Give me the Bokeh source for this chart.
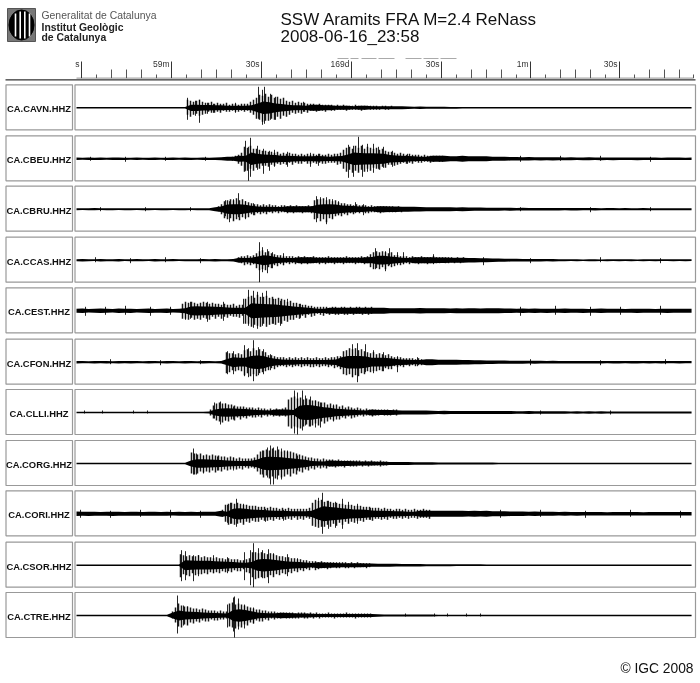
from bokeh.plotting import figure
from bokeh.models import Range1d
from bokeh.embed import file_html
from bokeh.resources import INLINE
from bokeh.core.properties import value

TITLE_1 = "SSW Aramits FRA M=2.4 ReNass"
TITLE_2 = "2008-06-16_23:58"
stations = ["CA.CAVN.HHZ","CA.CBEU.HHZ","CA.CBRU.HHZ","CA.CCAS.HHZ","CA.CEST.HHZ","CA.CFON.HHZ",
            "CA.CLLI.HHZ","CA.CORG.HHZ","CA.CORI.HHZ","CA.CSOR.HHZ","CA.CTRE.HHZ"]
panel_centres = [107.3,158.3,208.7,259.7,310.3,361.7,412,463,513.3,564.7,615]

major_ticks = [81,171,261,351,441,530,619]
major_labels = ["s","59m","30s","169d","30s","1m","30s"]
mid_ticks = [111,126,141,201,216,231,291,306,321,381,396,411,471,486,501,560,575,590,649,664,679]
short_ticks = [96,156,186,246,276,336,366,426,456,516,545,605,634,693]
dash_starts = [337,350,361,378,405,423,440]
dash_ends = [348,358,376,394,421,438,456]

SAMPLE_START = 76
SAMPLE_STEP = 6.03
TOOTH_STEP = 3

core_cavn = [.8,.8,.8,.8,.8,.8,.8,.8,.8,.8,
 .8,.8,.8,.8,.8,.8,.8,.8,.8,5,
 5,4.5,4.5,4,4,3.5,3.5,3.5,3.5,4,
 7,10,9,7,6,5,4,4,3.5,3,
 3,2.5,2.5,2,2,2,1.5,2,2,1.5,
 1.5,1.5,1.5,1.5,1.5,1.2,1,1.2,1,1,
 1,1,.9,.9,.8,.8,.8,.8,.8,.8,
 .8,.8,.8,.8,.8,.8,.8,.8,.8,.8,
 .8,.8,.8,.8,.8,.8,.8,.8,.8,.8,
 .8,.8,.8,.8,.8,.8,.8,.8,.8,.8,
 .8,.8,.8]
core_cbeu = [1.2,1,1.3,1.1,1.2,1,1.2,1.3,1.1,1,
 1.2,1,1.1,1.2,1,1.1,1.2,1,1.2,1.1,
 1,1.2,1.1,1.2,1.5,2,2,3,4.5,10,
 8,7,6.5,6,5,5,4.5,4,4,4,
 4.5,4,3.5,4,4.5,7,10,9.5,9,9,
 8.5,8,6,5.5,5,4.5,4,3.5,3.5,3,
 3,3,2.5,2.5,3,2.5,2.5,2.5,2.5,2,
 2,2,1.8,1.8,1.6,1.8,1.5,1.6,1.5,1.6,
 1.5,1.4,1.5,1.3,1.4,1.5,1.2,1.4,1.3,1.4,
 1.2,1.3,1.2,1.4,1.2,1.2,1.3,1.1,1.2,1.2,
 1.2,1.1,1.2]
core_cbru = [1,.9,1,1.1,.9,1,1,.9,1,1,
 .9,1,1,.9,1,1,.9,1,1,.9,
 1,1,1,2,4.5,7.5,8,8,7,5.5,
 4.5,4,4,3.5,3.5,3,3,3,3,3,
 7,8,8,7.5,6,5.5,5,4.5,4,3.5,
 3,3,2.8,2.8,2.5,2.5,2.4,2.3,2,2,
 2,2,2,1.8,2,1.8,1.6,1.6,1.5,1.5,
 1.5,1.4,1.5,1.3,1.4,1.3,1.2,1.3,1.2,1.3,
 1.2,1.1,1.2,1.2,1.1,1.1,1.2,1,1.1,1.1,
 1,1.1,1,1,1.1,1,1,1,1,1,
 1,1,1]
core_ccas = [1,1.2,1,.9,1.2,1,1,1.2,.9,1,
 1.1,1,.9,1.2,1,1,1.1,.9,1,1,
 1,1.1,1,1.2,1,1,1.2,2.5,3.5,4,
 6,8,7,5,4,3.5,3.5,3,3,3,
 2.5,2.5,2.5,2.5,2.5,2.5,2.5,2.5,3,5,
 7,7,6,5,4,3.5,3,3,3,3,
 2.8,2.8,2.5,2.5,2.5,2.2,2.2,2,2,1.8,
 1.6,1.5,1.4,1.4,1.2,1.3,1.2,1.2,1.1,1.2,
 1,1,.9,1,.8,1,1,.8,1,.9,
 1,.9,1,.8,1,.9,1,.9,.9,1,
 .9,1,.9]
core_cest = [2,2.2,1.8,2,2.3,2,1.8,2.2,2,2.1,
 1.8,2,2.2,1.9,2,2.2,1.8,2,2.5,7,
 7.5,7,7,6.5,6,5.5,5,5,5,12,
 11.5,11,10.5,10,9,8,7,6,5.5,4.5,
 3.5,3.5,3,3,3,3,3,3,3,3,
 3,3,2.5,2.5,2.5,2.5,2.5,2.8,2.5,2.5,
 2.5,2.5,2.3,2.5,2.4,2.5,2.5,2.4,2.5,2.5,
 2.5,2.2,2.3,2,2.2,2,2.3,2,2.1,2,
 2,2.2,2,2,2.1,1.9,2,2.2,2,2,
 2,1.9,2,2.1,2,2,1.9,2,2.1,2,
 2,2,2]
core_cfon = [1.2,1.1,1,1.3,1.1,1.2,1,1.2,1.1,1.2,
 1.1,1,1.2,1.1,1,1.2,1.1,1,1.2,1.1,
 1,1.2,1.1,1,1.2,5,8,7,7,10,
 11,10,7,5.5,4.5,4,4,3.5,3.5,3.5,
 3.5,3.5,4,4.5,8,10,10,10,9,7,
 7,7,6.5,5,4.5,4,3.5,3.5,3,3,
 2.5,2.5,2.5,2.5,2.3,2.2,2,2,1.8,1.8,
 1.6,1.6,1.5,1.5,1.5,1.4,1.5,1.4,1.3,1.4,
 1.3,1.3,1.2,1.3,1.2,1.2,1.3,1.2,1.1,1.2,
 1.2,1.1,1.2,1.2,1.1,1.2,1.1,1.2,1.1,1.1,
 1.2,1.1,1.1]
core_clli = [.8,.7,.7,.8,.7,.7,.7,.8,.7,.7,
 .7,.7,.8,.7,.7,.7,.8,.7,.7,.7,
 .7,.8,1,5,6.5,7,6.5,6,5.5,5,
 4,3.5,3.2,3,3,3,4,11,12,11.5,
 10,8.5,7.5,6,5.5,5,4.5,3.5,3.2,3,
 2.5,2.5,2.5,2.2,2,2,2,2,2,1.8,
 1.6,1.8,1.5,1.5,1.6,1.5,1.5,1.4,1.5,1.5,
 1.5,1.4,1.4,1.3,1.3,1.4,1.2,1.3,1.2,1.2,
 1.2,1.2,1.1,1.2,1.1,1.2,1.1,1.2,1,1.1,
 1.1,1,1.1,1,1,1.1,1,1,1.1,1,
 1,1,1]
core_corg = [.8,.8,.8,.8,.8,.8,.8,.8,.8,.8,
 .8,.8,.8,.8,.8,.8,.8,.8,.8,3,
 7,7,6.5,6,5.5,5,4.5,4,4,4.5,
 6.5,10,11,10.5,10,9,8,7,6,4,
 3.5,3.3,3,2.8,2.5,2.5,2.3,2,2,2,
 1.8,1.8,1.6,1.5,1.5,1.4,1.3,1.2,1.2,1.2,
 1.1,1.1,1,1,1,1,.9,.9,.9,.9,
 .8,.8,.8,.8,.8,.8,.8,.8,.8,.8,
 .8,.8,.8,.8,.8,.8,.8,.8,.8,.8,
 .8,.8,.8,.8,.8,.8,.8,.8,.8,.8,
 .8,.8,.8]
core_cori = [2.2,2,2.1,2,1.9,2,2.1,2,1.9,2,
 2,1.9,2,2,1.9,2,1.8,2,1.9,2,
 1.9,2,2,2,3,3.5,8,9,8,7,
 6.5,6,5.5,5,5,4.5,4,4,4,5,
 9,12,11,10,9,8,7,7,6.5,5.5,
 5,5,4.5,4,4,3.5,3.3,3,3,3,
 3,3,3,3,3,2.8,3,2.8,3,2.5,
 2.5,2.5,2.3,2.2,2.3,2,2.2,2,2,2,
 1.8,2,1.8,1.9,1.8,1.7,1.8,1.8,1.6,1.8,
 1.7,1.8,1.7,1.8,1.6,1.8,1.7,1.8,1.7,1.7,
 1.7,1.8,1.7]
core_csor = [.8,.8,.8,.8,.8,.8,.8,.8,.8,.8,
 .8,.8,.8,.8,.8,.8,.8,.8,8,7.5,
 7,7,7,6.5,6,5.5,5,4.5,4,5,
 9,10,9.5,8.5,7,6,5.5,5,4.5,3.5,
 3,2.8,2.5,2.2,2,2,2,2,1.8,1.6,
 1.5,1.5,1.5,1.4,1.3,1.2,1.2,1.2,1,1,
 1,1,1,.9,.9,.9,.9,.9,.8,.8,
 .8,.8,.8,.8,.8,.8,.8,.8,.8,.8,
 .8,.8,.8,.8,.8,.8,.8,.8,.8,.8,
 .8,.8,.8,.8,.8,.8,.8,.8,.8,.8,
 .8,.8,.8]
core_ctre = [.8,.8,.8,.8,.8,.8,.8,.8,.8,.8,
 .8,.8,.8,.8,.8,.8,3,8,6.5,6,
 5.5,5,4.5,4,3.5,3.2,9,10,9,7,
 5,4,3.5,3.5,2.8,2.5,2.2,2,2,1.8,
 1.6,1.5,1.5,1.5,1.6,1.5,1.5,1.4,1.5,1.4,
 1.2,1.1,1,1,1,.9,.9,.9,.9,.9,
 .8,.8,.8,.8,.8,.8,.8,.8,.8,.8,
 .8,.8,.8,.8,.8,.8,.8,.8,.8,.8,
 .8,.8,.8,.8,.8,.8,.8,.8,.8,.8,
 .8,.8,.8,.8,.8,.8,.8,.8,.8,.8,
 .8,.8,.8]

spike_x_cavn = [187,195,199,207,213,235,258,262,264,270,275,283,303,318]
spike_up_cavn = [10,7,8,5,4,5,21,18,21,14,11,6,6,3]
spike_dn_cavn = [12,8,15,6,5,5,11,17,16,12,12,7,4,3]
spike_x_cbeu = [90,125,165,205,245,248,250,257,263,269,274,287,310,318,348,353,358,362,367,373,378,383,392,407,520,560,600,650]
spike_up_cbeu = [2,2,2,2,18,12,21,13,10,8,9,7,6,5,14,13,22,14,15,15,12,12,8,5,3,3,3,2]
spike_dn_cbeu = [2,3,2,2,12,22,18,11,15,12,8,8,8,7,19,18,12,18,13,14,10,9,8,5,3,2,2,3]
spike_x_cbru = [100,145,190,225,229,233,238,245,253,316,320,326,332,338,355,363,520,590,650]
spike_up_cbru = [2,2,2,9,8,10,16,8,6,13,12,12,10,8,7,5,2,2,2]
spike_dn_cbru = [2,2,2,7,13,11,8,10,6,13,9,15,9,6,4,6,2,3,2]
spike_x_ccas = [95,130,165,200,259,262,267,272,283,375,385,389,397,403,433,483,530,600,660]
spike_up_ccas = [3,2,3,2,18,13,11,8,7,12,9,12,8,8,6,3,2,3,2]
spike_dn_ccas = [2,3,2,3,22,12,13,8,5,9,11,5,5,4,4,5,3,2,3]
spike_x_cest = [85,105,125,150,170,185,190,207,223,243,248,253,257,262,266,273,280,287,300,520,555,590,620,660]
spike_up_cest = [4,4,5,4,4,7,9,9,9,12,21,20,19,18,20,12,10,12,7,4,5,4,4,5]
spike_dn_cest = [5,4,4,5,4,9,8,11,10,13,15,17,18,15,13,13,15,8,7,5,4,5,4,4]
spike_x_cfon = [110,160,200,227,233,244,248,253,258,263,270,352,357,365,373,383,397,417,530,600,665]
spike_up_cfon = [3,2,2,11,11,17,14,22,15,13,8,18,19,18,12,10,6,5,3,2,3]
spike_dn_cfon = [2,3,2,12,12,14,15,19,13,12,8,15,20,10,11,9,10,4,3,3,2]
spike_x_clli = [84,102,133,147,214,220,225,233,294,297,302,305,310,315,320,333,540,610]
spike_up_clli = [2,2,2,2,10,11,9,6,22,20,22,17,16,12,10,8,2,2]
spike_dn_clli = [1,1,1,1,6,12,8,7,21,22,18,13,14,15,15,9,2,2]
spike_x_corg = [193,196,203,217,233,262,267,270,273,277,281,287,297]
spike_up_corg = [15,10,8,7,6,13,16,18,16,17,15,13,8]
spike_dn_corg = [11,11,10,7,7,11,14,21,21,16,16,9,7]
spike_x_cori = [80,110,140,170,200,227,230,236,243,265,283,318,322,328,335,342,348,357,370,500,540,585,630,680]
spike_up_cori = [4,3,4,4,3,9,11,15,10,5,4,16,21,13,12,15,12,10,6,4,4,3,4,3]
spike_dn_cori = [4,4,3,4,4,9,10,13,9,8,7,10,20,15,14,15,9,10,6,4,3,4,3,4]
spike_x_csor = [181,185,193,198,213,227,244,250,253,258,262,268,273,287,297]
spike_up_csor = [15,14,10,10,10,8,13,15,22,17,15,16,12,11,7]
spike_dn_csor = [16,15,16,11,8,8,15,20,22,12,13,18,10,11,5]
spike_x_ctre = [177,183,187,227,233,234,238,244,253,405,434,447,466,480]
spike_up_ctre = [20,10,9,11,18,19,17,11,8,2,2,2,2,2]
spike_dn_ctre = [18,10,9,12,16,22,14,13,8,1,1,1,1,1]

tooth_start = [187,232,218,238,182,226,210,191,222,180,172]

tooth_up_cavn = [8,7,6,7,8,6,5,5,6,4,5,4,4,5,3,4,4,3,4,4,4,6,8,10,13,12,14,11,13,10,11,9,10,7,6,7,5,6,5,5,4,4,4,3,4,3,3,3,3,2,3,2,3,2,2,2,3,2,2,2,2,2,2,2,1,2,2,1,2]
tooth_dn_cavn = [7,9,7,6,8,7,6,4,5,5,4,5,3,4,4,3,4,4,3,4,3,5,7,11,12,14,13,13,11,12,9,11,8,9,7,5,6,5,6,4,5,3,3,4,3,3,4,2,3,3,2,2,2,3,2,2,2,2,3,2,1,2,2,2,2,1,2,2,1]
tooth_up_cbeu = [2,3,4,6,12,11,13,10,10,9,8,8,7,7,6,7,5,6,5,6,5,5,4,5,4,5,4,5,4,5,4,4,5,4,5,5,6,9,11,12,10,13,11,13,10,12,11,10,11,9,10,8,7,7,6,5,6,5,4,5,4,4,4,3,4,3,3,3,3,3,3]
tooth_dn_cbeu = [2,2,5,7,13,12,10,12,9,10,7,7,8,6,7,5,6,5,6,4,6,4,5,5,3,5,5,4,5,4,5,5,4,4,4,6,5,10,13,11,14,12,14,11,13,10,12,9,10,11,8,9,6,6,7,6,5,4,5,4,5,3,4,4,3,3,4,3,2,3,3]
tooth_up_cbru = [3,5,8,9,10,9,11,9,10,8,7,6,5,5,4,5,4,5,4,4,3,4,4,3,4,3,4,3,3,3,4,3,9,10,10,11,9,10,8,9,7,6,6,5,5,4,5,4,4,4,3,4,3,3,3,3,3,3,3,2,3,2]
tooth_dn_cbru = [2,5,9,10,9,12,10,11,8,9,8,5,6,4,5,4,5,3,4,3,4,3,3,4,3,4,3,3,4,3,3,4,10,9,12,10,13,9,10,7,6,7,5,6,4,5,3,4,3,4,4,3,3,3,4,3,2,3,3,3,2,3]
tooth_up_ccas = [3,4,4,5,4,5,7,9,10,8,9,7,6,5,5,4,4,4,4,3,4,3,4,3,3,4,3,3,3,3,4,3,3,3,3,3,4,3,3,3,3,4,3,4,6,8,9,8,9,8,7,8,5,5,4,4,4,3,4,3,3,4,3,3,3,4,3,3,3,3,3,3,2,3,2,3]
tooth_dn_ccas = [2,3,5,4,5,4,8,10,9,10,7,8,5,6,4,5,3,4,3,4,3,4,3,4,3,3,3,4,3,4,3,3,4,3,3,4,3,3,3,4,3,3,4,3,7,9,8,9,7,9,6,7,6,4,5,4,3,4,3,3,4,3,3,4,3,3,3,3,2,3,3,2,3,2,3,2]
tooth_up_cest = [7,9,8,9,8,7,8,9,8,7,8,7,7,6,7,6,6,7,5,6,6,12,14,15,13,16,14,14,15,13,14,12,13,12,11,9,10,8,8,7,6,6,5,5,4,4,4,4,4,3,4,4,3,4,4,3,4,3,4,4,3,4,3,4]
tooth_dn_cest = [8,8,9,7,9,8,9,7,8,9,6,8,6,8,6,7,5,6,6,7,5,13,13,16,14,15,16,13,16,14,13,14,12,13,10,11,9,9,7,8,5,7,4,6,5,3,4,5,3,4,3,4,4,3,4,4,3,4,3,3,4,3,4,3]
tooth_up_cfon = [10,9,9,8,9,8,12,13,11,14,12,13,11,10,7,7,6,5,5,5,4,5,4,5,4,5,4,5,4,4,5,4,4,5,4,5,5,6,6,11,12,14,13,14,12,13,11,10,9,10,8,9,8,7,8,6,5,5,5,4,4,4,4,3,4,3]
tooth_dn_cfon = [11,10,8,9,8,9,13,11,14,12,14,11,10,9,8,6,7,5,4,4,5,4,5,4,4,5,4,4,5,5,4,5,4,4,5,4,6,5,7,12,13,12,15,13,14,11,12,9,10,9,9,8,9,6,7,7,4,5,4,5,3,4,3,4,3,3]
tooth_up_clli = [3,7,9,10,9,9,8,8,7,6,6,6,5,5,5,4,5,4,4,3,4,3,4,3,4,5,13,15,16,14,15,13,14,13,12,12,11,10,10,8,9,7,8,6,7,5,6,5,4,5,4,3,4,3,3,3,3,3,3,3,2,3,3]
tooth_dn_clli = [3,6,8,9,10,8,9,7,8,5,7,5,6,4,5,5,4,5,3,4,3,4,3,4,3,4,14,16,14,15,16,14,12,14,13,11,13,9,11,9,7,8,7,7,5,6,4,6,5,4,3,4,3,3,4,3,3,2,3,3,3,2,3]
tooth_up_corg = [11,10,9,10,8,9,8,9,8,8,7,7,6,7,6,5,6,5,5,5,5,6,9,12,13,14,13,15,13,14,12,13,12,12,11,10,9,8,7,6,6,5,5,4,5,4,4,4,3,4,3,3,3,3,3,3,3,2,3,2,3,2,2,3,2,2]
tooth_dn_corg = [10,11,10,8,9,8,9,7,9,7,8,6,7,6,5,6,5,6,4,5,4,5,8,11,14,12,15,13,15,12,14,13,11,13,10,11,8,9,6,7,5,6,4,5,4,5,3,3,4,3,3,4,2,3,3,3,2,3,2,3,2,2,2,3,2,2]
tooth_up_cori = [4,9,10,11,10,11,10,9,9,8,8,8,7,7,7,6,7,6,6,5,6,5,6,5,5,5,5,5,5,6,11,14,13,14,12,13,12,11,11,10,10,9,9,9,8,8,8,7,7,7,6,6,6,5,6,5,5,4,5,5,4,5,4,4,5,4,4,5,4,4]
tooth_dn_cori = [3,8,11,10,11,10,9,11,8,9,7,8,8,6,7,7,6,7,5,6,5,6,5,6,4,6,5,6,4,5,12,13,14,13,13,11,13,10,12,9,11,8,10,8,9,7,7,8,6,6,7,5,5,6,5,6,4,5,5,4,5,4,5,4,4,5,4,4,4,5]
tooth_up_csor = [11,10,9,10,9,9,10,8,9,8,8,7,8,7,7,6,7,6,6,6,5,5,6,7,13,13,12,13,12,11,12,11,10,9,9,8,8,7,7,6,6,5,5,4,4,4,3,4,3,3,3,3,3,3,3,3,2,3,2,3,2,2,2,2]
tooth_dn_csor = [12,9,10,11,8,10,9,9,8,9,7,8,7,8,6,7,6,7,5,6,6,4,7,8,12,14,13,12,13,12,10,12,9,10,8,9,7,8,6,7,5,6,4,5,3,5,4,3,3,4,3,2,3,3,2,3,3,2,3,2,2,2,3,2]
tooth_up_ctre = [4,8,12,10,9,9,8,7,7,6,7,6,5,5,5,4,5,4,4,12,13,11,12,11,10,9,8,7,6,6,5,5,4,4,4,3,3,3,3,3,3,2,3,3,3,2,3,2,3,2,2,2,3,2,2,2,2,2,3,2,2,2,2,2,2,2,2]
tooth_dn_ctre = [3,7,11,12,9,10,7,8,6,7,5,6,6,4,5,5,4,4,3,11,12,13,11,12,9,10,7,8,5,6,6,4,5,3,4,3,3,2,3,3,3,3,3,2,3,3,2,3,2,3,2,2,2,2,3,2,2,2,2,2,2,3,2,2,2,2,2]

cores = [core_cavn,core_cbeu,core_cbru,core_ccas,core_cest,core_cfon,core_clli,core_corg,core_cori,core_csor,core_ctre]
spike_x = [spike_x_cavn,spike_x_cbeu,spike_x_cbru,spike_x_ccas,spike_x_cest,spike_x_cfon,spike_x_clli,spike_x_corg,spike_x_cori,spike_x_csor,spike_x_ctre]
spike_up = [spike_up_cavn,spike_up_cbeu,spike_up_cbru,spike_up_ccas,spike_up_cest,spike_up_cfon,spike_up_clli,spike_up_corg,spike_up_cori,spike_up_csor,spike_up_ctre]
spike_dn = [spike_dn_cavn,spike_dn_cbeu,spike_dn_cbru,spike_dn_ccas,spike_dn_cest,spike_dn_cfon,spike_dn_clli,spike_dn_corg,spike_dn_cori,spike_dn_csor,spike_dn_ctre]
tooth_up = [tooth_up_cavn,tooth_up_cbeu,tooth_up_cbru,tooth_up_ccas,tooth_up_cest,tooth_up_cfon,tooth_up_clli,tooth_up_corg,tooth_up_cori,tooth_up_csor,tooth_up_ctre]
tooth_dn = [tooth_dn_cavn,tooth_dn_cbeu,tooth_dn_cbru,tooth_dn_ccas,tooth_dn_cest,tooth_dn_cfon,tooth_dn_clli,tooth_dn_corg,tooth_dn_cori,tooth_dn_csor,tooth_dn_ctre]

p = figure(width=700, height=683, x_range=Range1d(0,700), y_range=Range1d(683,0),
           x_axis_location=None, y_axis_location=None, toolbar_location=None,
           output_backend="svg", min_border=0, outline_line_color=None,
           background_fill_color="white", border_fill_color="white")
p.grid.visible = False
p.styles = {"position":"fixed","left":"0px","top":"0px"}

BOX = "#999999"
LIB = value("Liberation Sans")
for i, (name, c) in enumerate(zip(stations, panel_centres)):
    p.quad(left=[5.5], right=[72], top=[c-23], bottom=[c+22], fill_color="white", line_color=BOX, line_width=1.2)
    p.quad(left=[74.5], right=[695], top=[c-23], bottom=[c+22], fill_color="white", line_color=BOX, line_width=1.2)
    p.text(x=[38.5], y=[c+0.8], text=[name], text_font=LIB, text_font_size="9.4px", text_font_style="bold",
           text_align="center", text_baseline="middle", text_color="#111111")
    xs = [SAMPLE_START+SAMPLE_STEP*k for k in range(len(cores[i]))]
    half = [v if v <= 3 else v*0.62 for v in cores[i]]
    p.varea(x=xs, y1=[c-v for v in half], y2=[c+v for v in half], fill_color="black")
    n = min(len(tooth_up[i]), len(tooth_dn[i]))
    tx = [tooth_start[i]+TOOTH_STEP*k for k in range(n)]
    p.segment(x0=tx, x1=tx, y0=[c-v for v in tooth_up[i][:n]], y1=[c+v for v in tooth_dn[i][:n]],
              line_color="black", line_width=1.5, line_alpha=0.9)
    p.segment(x0=spike_x[i], x1=spike_x[i], y0=[c-v for v in spike_up[i]], y1=[c+v for v in spike_dn[i]],
              line_color="black", line_width=1, line_alpha=0.85)

# time ruler
p.segment(x0=[76], x1=[693], y0=[77.6], y1=[77.6], line_color="#777777", line_width=0.8)
p.segment(x0=[5], x1=[695], y0=[79.4], y1=[79.4], line_color="black", line_width=1)
p.segment(x0=major_ticks, x1=major_ticks, y0=[61]*len(major_ticks), y1=[77.6]*len(major_ticks), line_color="#333333", line_width=1)
p.segment(x0=mid_ticks, x1=mid_ticks, y0=[69]*len(mid_ticks), y1=[77.6]*len(mid_ticks), line_color="#555555", line_width=1)
p.segment(x0=short_ticks, x1=short_ticks, y0=[74]*len(short_ticks), y1=[77.6]*len(short_ticks), line_color="#555555", line_width=1)
p.segment(x0=dash_starts, x1=dash_ends, y0=[58]*len(dash_starts), y1=[58]*len(dash_starts), line_color="#aaaaaa", line_width=1)
p.text(x=[t-2 for t in major_ticks], y=[63.5]*len(major_ticks), text=major_labels, text_font=LIB, text_font_size="8.5px",
       text_align="right", text_baseline="middle", text_color="#333333")

# titles
p.text(x=[280], y=[18.5], text=[TITLE_1], text_font=LIB, text_font_size="17px", text_baseline="middle", text_color="#111111")
p.text(x=[280], y=[35.5], text=[TITLE_2], text_font=LIB, text_font_size="17px", text_baseline="middle", text_color="#111111")
p.text(x=[693], y=[668], text=["\u00a9 IGC 2008"], text_font=LIB, text_font_size="13.8px", text_align="right", text_baseline="middle", text_color="#111111")

# institution block
p.text(x=[41], y=[15], text=["Generalitat de Catalunya"], text_font=LIB, text_font_size="10.4px", text_baseline="middle", text_color="#555555")
p.text(x=[41], y=[26.5], text=["Institut Geol\u00f2gic"], text_font=LIB, text_font_size="10.4px", text_font_style="bold", text_baseline="middle", text_color="#222222")
p.text(x=[41], y=[37], text=["de Catalunya"], text_font=LIB, text_font_size="10.4px", text_font_style="bold", text_baseline="middle", text_color="#222222")
p.quad(left=[7], right=[35], top=[8], bottom=[41], fill_color="#777777", line_color="#555555")
p.ellipse(x=[21], y=[24.5], width=[25], height=[30], fill_color="black", line_color="black")
p.segment(x0=[15,19.7,24.3,29], x1=[15,19.7,24.3,29], y0=[13,11,11,13], y1=[36,38,38,36], line_color="white", line_width=1.6)

open("out.html","w").write(file_html(p, INLINE))
